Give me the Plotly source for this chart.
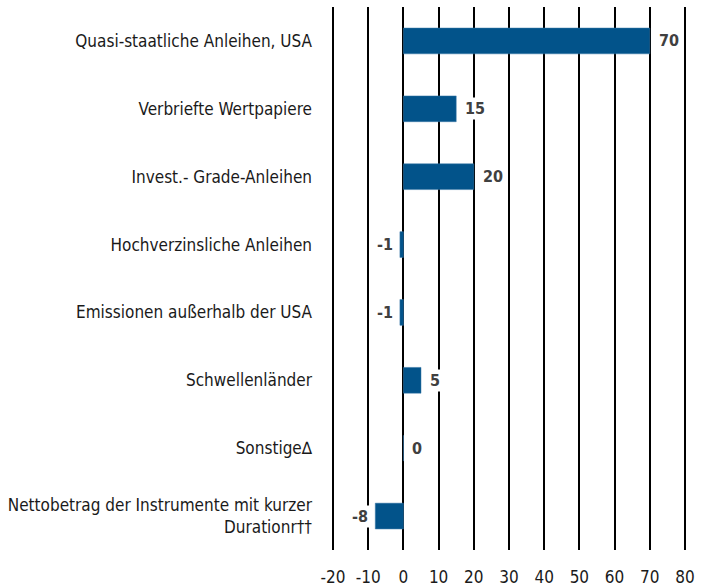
import plotly.graph_objects as go

categories = [
    "Quasi-staatliche Anleihen, USA",
    "Verbriefte Wertpapiere",
    "Invest.- Grade-Anleihen",
    "Hochverzinsliche Anleihen",
    "Emissionen außerhalb der USA",
    "Schwellenländer",
    "Sonstige∆",
    "Nettobetrag der Instrumente mit kurzer<br>Durationr††",
]
values = [70, 15, 20, -1, -1, 5, 0, -8]
tick_values = [-20, -10, 0, 10, 20, 30, 40, 50, 60, 70, 80]
tick_labels = ["-20", "-10", "0", "10", "20", "30", "40", "50", "60", "70", "80"]

BAR = "#02538a"
FONT = "Liberation Sans Narrow, DejaVu Sans Condensed, sans-serif"

fig = go.Figure()
fig.add_trace(go.Bar(
    x=values, y=categories, orientation="h",
    marker=dict(color=BAR, line=dict(color="#3a78a8", width=0.5)),
    width=0.38, hoverinfo="skip",
))

for c, v in zip(categories, values):
    fig.add_annotation(
        x=v, y=c, xref="x", yref="y",
        text=f"<b>{v}</b>", showarrow=False,
        xanchor="right" if v < 0 else "left",
        xshift=-5 if v < 0 else 7,
        bgcolor="white", borderpad=1,
        font=dict(family=FONT, size=16, color="#404040"),
    )

fig.update_layout(
    width=714, height=588,
    margin=dict(l=332, r=28, t=7, b=38),
    paper_bgcolor="white", plot_bgcolor="white",
    showlegend=False,
    bargap=0.6,
    font=dict(family=FONT, size=17, color="#1a1a1a"),
)
fig.update_xaxes(
    range=[-20.3, 80.3], tickvals=tick_values, ticktext=tick_labels,
    showgrid=True, gridcolor="black", gridwidth=2,
    zeroline=True, zerolinecolor="black", zerolinewidth=2,
    showline=False, ticks="", ticklabelstandoff=15, automargin=False,
    tickfont=dict(family=FONT, size=17, color="#1a1a1a"),
    fixedrange=True,
)
fig.update_yaxes(
    autorange="reversed", showgrid=False, zeroline=False, showline=False,
    ticks="", ticklabelstandoff=19, automargin=False,
    tickfont=dict(family=FONT, size=17, color="#1a1a1a"),
    fixedrange=True,
)

fig.write_html("out.html", config={"displayModeBar": False},
               post_script="document.body.style.margin='0';")
